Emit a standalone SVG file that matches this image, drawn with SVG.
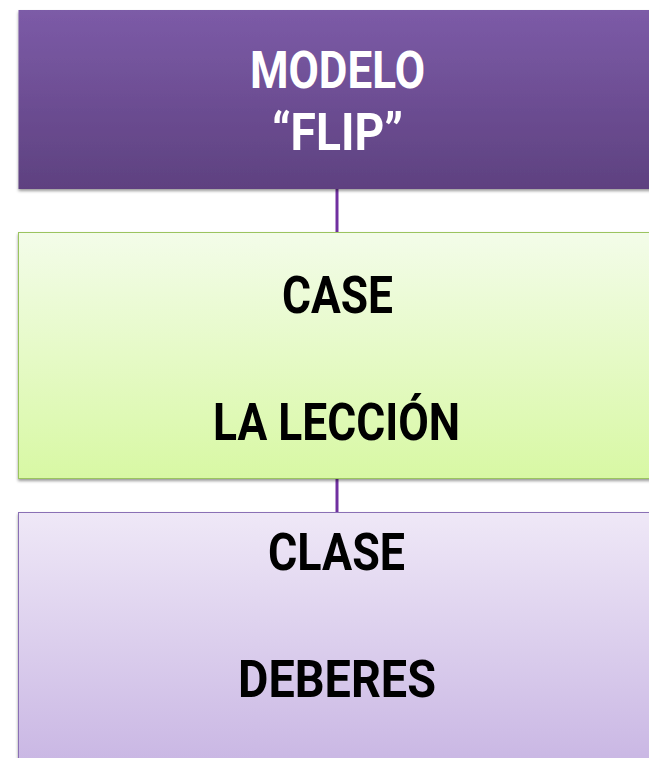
<svg xmlns="http://www.w3.org/2000/svg" width="649" height="758" viewBox="0 0 649 758">
<defs>
<linearGradient id="gTop" x1="0" y1="0" x2="0" y2="1"><stop offset="0" stop-color="#7c5ba7"/><stop offset="1" stop-color="#5e4180"/></linearGradient>
<linearGradient id="gGreen" x1="0" y1="0" x2="0" y2="1"><stop offset="0" stop-color="#f3fce9"/><stop offset="1" stop-color="#d8f8a4"/></linearGradient>
<linearGradient id="gPurple" x1="0" y1="0" x2="0" y2="1"><stop offset="0" stop-color="#efe8f7"/><stop offset="1" stop-color="#c8b5e3"/></linearGradient>
<filter id="sh" x="-5%" y="-5%" width="110%" height="115%"><feDropShadow dx="0" dy="2" stdDeviation="1.5" flood-color="#000" flood-opacity="0.4"/></filter>
</defs>
<style>
.t{font-family:Roboto,"DejaVu Sans",sans-serif;font-weight:bold;font-size:52px;text-anchor:middle}
.w{fill:#ffffff}
.k{fill:#000000}
.c{stroke:#7030a0;stroke-width:3;fill:none}
</style>
<rect width="649" height="758" fill="#ffffff"/>
<g id="connectors">
<line class="c" x1="337" y1="189" x2="337" y2="232"/>
<line class="c" x1="337" y1="479" x2="337" y2="512"/>
</g>
<g id="modelo">
<rect x="18.5" y="10" width="640" height="179" fill="url(#gTop)" filter="url(#sh)"/>
<text class="t w" x="337.5" y="88" textLength="175" lengthAdjust="spacingAndGlyphs">MODELO</text>
<text class="t w" x="337.5" y="150" textLength="131" lengthAdjust="spacingAndGlyphs">“FLIP”</text>
</g>
<g id="case">
<rect x="18.5" y="232.5" width="640" height="246" fill="url(#gGreen)" stroke="#9bc45e" stroke-width="1" filter="url(#sh)"/>
<text class="t k" x="337.5" y="313" textLength="111" lengthAdjust="spacingAndGlyphs">CASE</text>
<text class="t k" x="336.5" y="440" textLength="247" lengthAdjust="spacingAndGlyphs">LA LECCIÓN</text>
</g>
<g id="clase">
<rect x="18.5" y="512.5" width="640" height="260" fill="url(#gPurple)" stroke="#8a6fb5" stroke-width="1" filter="url(#sh)"/>
<text class="t k" x="336.5" y="570" textLength="137" lengthAdjust="spacingAndGlyphs">CLASE</text>
<text class="t k" x="337" y="697" textLength="198" lengthAdjust="spacingAndGlyphs">DEBERES</text>
</g>
</svg>
